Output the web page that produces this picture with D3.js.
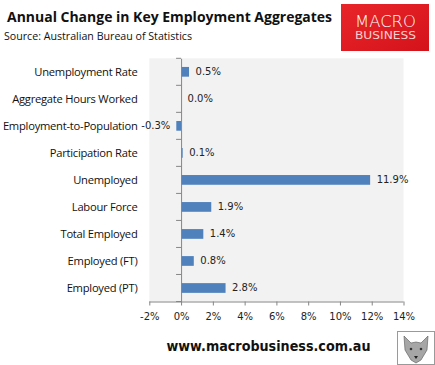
<!DOCTYPE html>
<html><head><meta charset="utf-8">
<script src="https://cdn.jsdelivr.net/npm/d3@7"></script>
<style>body{margin:0;background:#fff;}svg{display:block;}</style>
</head><body>
<svg id="c" width="435" height="365"></svg>
<script>
const categories = ["Unemployment Rate","Aggregate Hours Worked","Employment-to-Population","Participation Rate","Unemployed","Labour Force","Total Employed","Employed (FT)","Employed (PT)"];
const values = [0.5, 0.0, -0.3, 0.1, 11.9, 1.9, 1.4, 0.8, 2.8];
const xTicks = [-2, 0, 2, 4, 6, 8, 10, 12, 14];
const title = "Annual Change in Key Employment Aggregates";
const source = "Source: Australian Bureau of Statistics";
const footer = "www.macrobusiness.com.au";

const svg = d3.select("#c");
const font = "'DejaVu Sans', Verdana, sans-serif";
const L = 149.3, R = 403.5, T = 58.3, B = 301.5;

const x = d3.scaleLinear().domain([-2, 14]).range([L, R]);
const y = d3.scaleBand().domain(categories).range([T, B]).paddingInner(0.64).paddingOuter(0.32);

// titles
svg.append("text").attr("x", 7).attr("y", 22).attr("font-family","'Open Sans', sans-serif").attr("font-weight","bold")
  .attr("font-size", 15).attr("fill","#111").attr("textLength", 325).attr("lengthAdjust","spacingAndGlyphs").text(title);
svg.append("text").attr("x", 4).attr("y", 40).attr("font-family","'Open Sans', sans-serif")
  .attr("font-size", 11.5).attr("fill","#111").attr("textLength", 188).attr("lengthAdjust","spacingAndGlyphs").text(source);

// logo
const grad = svg.append("defs").append("linearGradient").attr("id","lg").attr("x1",0).attr("y1",0).attr("x2",1).attr("y2",1);
grad.append("stop").attr("offset",0).attr("stop-color","#e8262a");
grad.append("stop").attr("offset",1).attr("stop-color","#d4121a");
svg.append("rect").attr("x",341).attr("y",4).attr("width",88).attr("height",47).attr("fill","url(#lg)");
svg.append("text").attr("x",385.5).attr("y",27).attr("text-anchor","middle").attr("font-family","'DejaVu Sans', sans-serif")
  .attr("font-weight","300").attr("font-size",16.5).attr("fill","#fff").attr("textLength",61).attr("lengthAdjust","spacingAndGlyphs").text("MACRO");
svg.append("text").attr("x",385.5).attr("y",39).attr("text-anchor","middle").attr("font-family","'DejaVu Sans', sans-serif")
  .attr("font-size",10).attr("fill","#f6d0d0").attr("textLength",61).attr("lengthAdjust","spacingAndGlyphs").text("BUSINESS");

// plot area
svg.append("rect").attr("x",L).attr("y",T).attr("width",R-L).attr("height",B-T).attr("fill","#f2f2f2");

// bars
svg.append("g").selectAll("rect").data(values).join("rect")
  .attr("x", d => x(Math.min(0,d)))
  .attr("y", (d,i) => y(categories[i]))
  .attr("width", d => Math.abs(x(d)-x(0)))
  .attr("height", y.bandwidth())
  .attr("fill","#4f81bd");

// value labels
svg.append("g").selectAll("text").data(values).join("text")
  .attr("x", d => d < 0 ? x(d) - 6 : x(d) + 6.5)
  .attr("y", (d,i) => y(categories[i]) + y.bandwidth()/2)
  .attr("dy","0.35em")
  .attr("text-anchor", d => d < 0 ? "end" : "start")
  .attr("font-family", font).attr("font-size", 10).attr("fill","#222")
  .text(d => d.toFixed(1) + "%");

// y axis at zero
const yAxis = svg.append("g").attr("transform", `translate(${x(0)},0)`)
  .call(d3.axisLeft(y).tickSize(0).tickFormat(""));
yAxis.select(".domain").attr("stroke","#868686");
const bandEdges = d3.range(categories.length + 1).map(i => T + i*(B-T)/categories.length);
svg.append("g").selectAll("line").data(bandEdges).join("line")
  .attr("x1", x(0)-5).attr("x2", x(0)).attr("y1", d=>d).attr("y2", d=>d).attr("stroke","#868686");

// category labels
svg.append("g").selectAll("text").data(categories).join("text")
  .attr("x", 137.5).attr("y", d => y(d) + y.bandwidth()/2).attr("dy","0.35em")
  .attr("text-anchor","end").attr("font-family","'Open Sans', sans-serif").attr("font-size",11.2)
  .attr("fill","#111").attr("letter-spacing","-0.25").text(d => d);

// x axis
const xAxis = svg.append("g").attr("transform", `translate(0,${B})`)
  .call(d3.axisBottom(x).tickValues(xTicks).tickSize(4).tickPadding(7).tickFormat(d => d + "%"));
xAxis.select(".domain").attr("stroke","#868686").attr("d", `M${L},0.5H${R}`);
xAxis.selectAll(".tick line").attr("stroke","#868686");
xAxis.selectAll(".tick text").attr("font-family", font).attr("font-size",10).attr("fill","#222");

// footer
svg.append("text").attr("x",268.5).attr("y",351).attr("text-anchor","middle").attr("font-family","'DejaVu Sans', sans-serif")
  .attr("font-weight","bold").attr("font-size",14.5).attr("fill","#111").attr("textLength",204).attr("lengthAdjust","spacingAndGlyphs").text(footer);

// wolf badge
svg.append("rect").attr("x",397.5).attr("y",331.5).attr("width",37).attr("height",33).attr("fill","#fff").attr("stroke","#9a9a9a");
svg.append("path").attr("d","M404,336 L411,343 L416,342 L421,343 L428,336 L427,350 L421,360 L416,363 L411,360 L405,350 Z")
  .attr("fill","#a6a6a6").attr("stroke","#555").attr("stroke-width",0.6);
svg.append("circle").attr("cx",411).attr("cy",349).attr("r",1.3).attr("fill","#333");
svg.append("circle").attr("cx",421).attr("cy",349).attr("r",1.3).attr("fill","#333");
svg.append("path").attr("d","M414,356 L418,356 L416,359 Z").attr("fill","#222");
</script>
</body></html>
